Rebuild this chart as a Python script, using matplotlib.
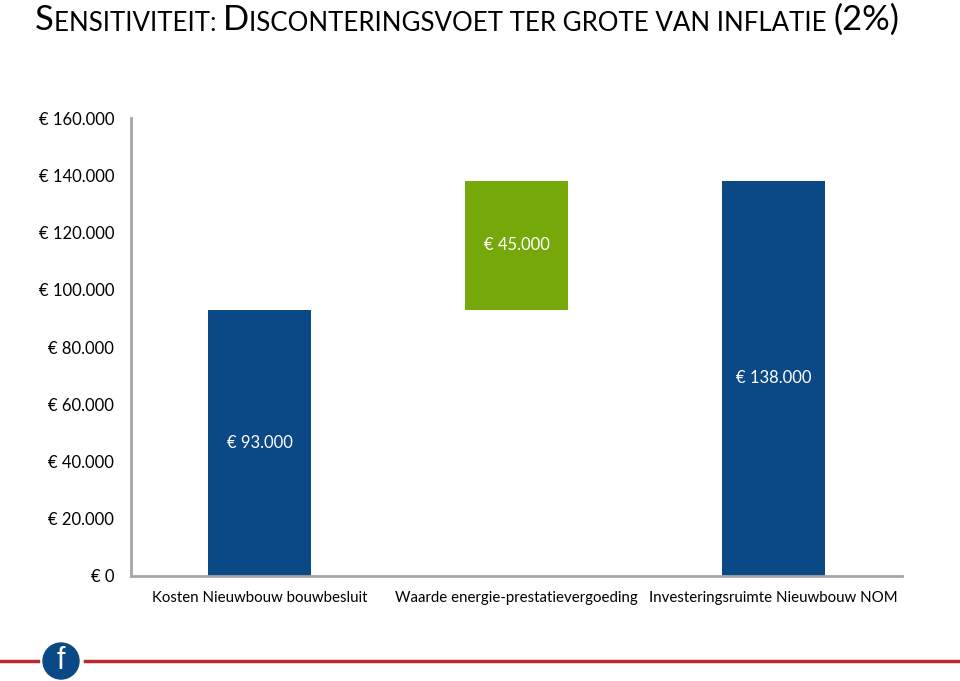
import matplotlib.pyplot as plt
from matplotlib.ticker import FuncFormatter
from matplotlib.patches import Circle
from matplotlib.lines import Line2D

# --- data ---
categories = ["Kosten Nieuwbouw bouwbesluit",
              "Waarde energie-prestatievergoeding",
              "Investeringsruimte Nieuwbouw NOM"]
values = [93000, 45000, 138000]
bottoms = [0, values[0], 0]
colors = ["#0B4886", "#76A80A", "#0B4886"]

FONT = ["Lato", "DejaVu Sans"]
plt.rcParams['font.family'] = FONT


def euro(v, pos=None):
    s = f"{int(v):,}".replace(",", ".")
    return f"\u20ac {s}"


fig = plt.figure(figsize=(9.6, 6.81), dpi=100)
ax = fig.add_axes([0.1365, 0.1542, 0.8031, 0.6725])

x = range(len(categories))
bars = ax.bar(x, values, bottom=bottoms, width=0.4, color=colors)

# waardelabels midden in de balk
for b, v in zip(bars, values):
    ax.text(b.get_x() + b.get_width() / 2, b.get_y() + b.get_height() / 2,
            euro(v), color="white", ha="center", va="center", fontsize=12)

ax.set_xlim(-0.5, len(categories) - 0.5)
ax.set_ylim(0, 160000)
ax.set_yticks(range(0, 160001, 20000))
ax.yaxis.set_major_formatter(FuncFormatter(euro))
ax.set_xticks(list(x))
ax.set_xticklabels(categories, fontsize=10.8)
ax.tick_params(axis="both", length=0, colors="black")
ax.tick_params(axis="y", pad=12, labelsize=12)
ax.tick_params(axis="x", pad=11)
for side in ["top", "right"]:
    ax.spines[side].set_visible(False)
for side in ["left", "bottom"]:
    ax.spines[side].set_color("#A6A6A6")
    ax.spines[side].set_linewidth(2)

# --- titel in kleinkapitaal ---
tfont = ["Lato", "DejaVu Sans"]
pieces = [("S", 24.8), ("ENSITIVITEIT: ", 18.6), ("D", 24.8),
          ("ISCONTERINGSVOET TER GROTE VAN INFLATIE ", 18.6), ("(2%)", 24.8)]
anchor = fig.text(35 / 960, 1 - 30 / 681, pieces[0][0], fontsize=pieces[0][1],
                  family=tfont, color="black", va="baseline")
for txt, size in pieces[1:]:
    anchor = plt.annotate(txt, xy=(1, 0), xycoords=anchor, xytext=(0, 0),
                          textcoords="offset points", fontsize=size,
                          family=tfont, va="bottom", ha="left",
                          annotation_clip=False)

# --- voettekst ---
red = "#C0282D"
fig.add_artist(Line2D([0, 38 / 960], [1 - 661 / 681] * 2, color=red, lw=2.5,
                      transform=fig.transFigure))
fig.add_artist(Line2D([85 / 960, 1], [1 - 661 / 681] * 2, color=red, lw=2.5,
                      transform=fig.transFigure))
fig.add_artist(Circle((61, 681 - 661), 18, color="#0B4886", transform=None))
fig.text(61 / 960, 1 - 661 / 681, "f", color="white", fontsize=22,
         ha="center", va="center", family=["Liberation Sans", "DejaVu Sans"])

plt.savefig("out.png", dpi=100)
